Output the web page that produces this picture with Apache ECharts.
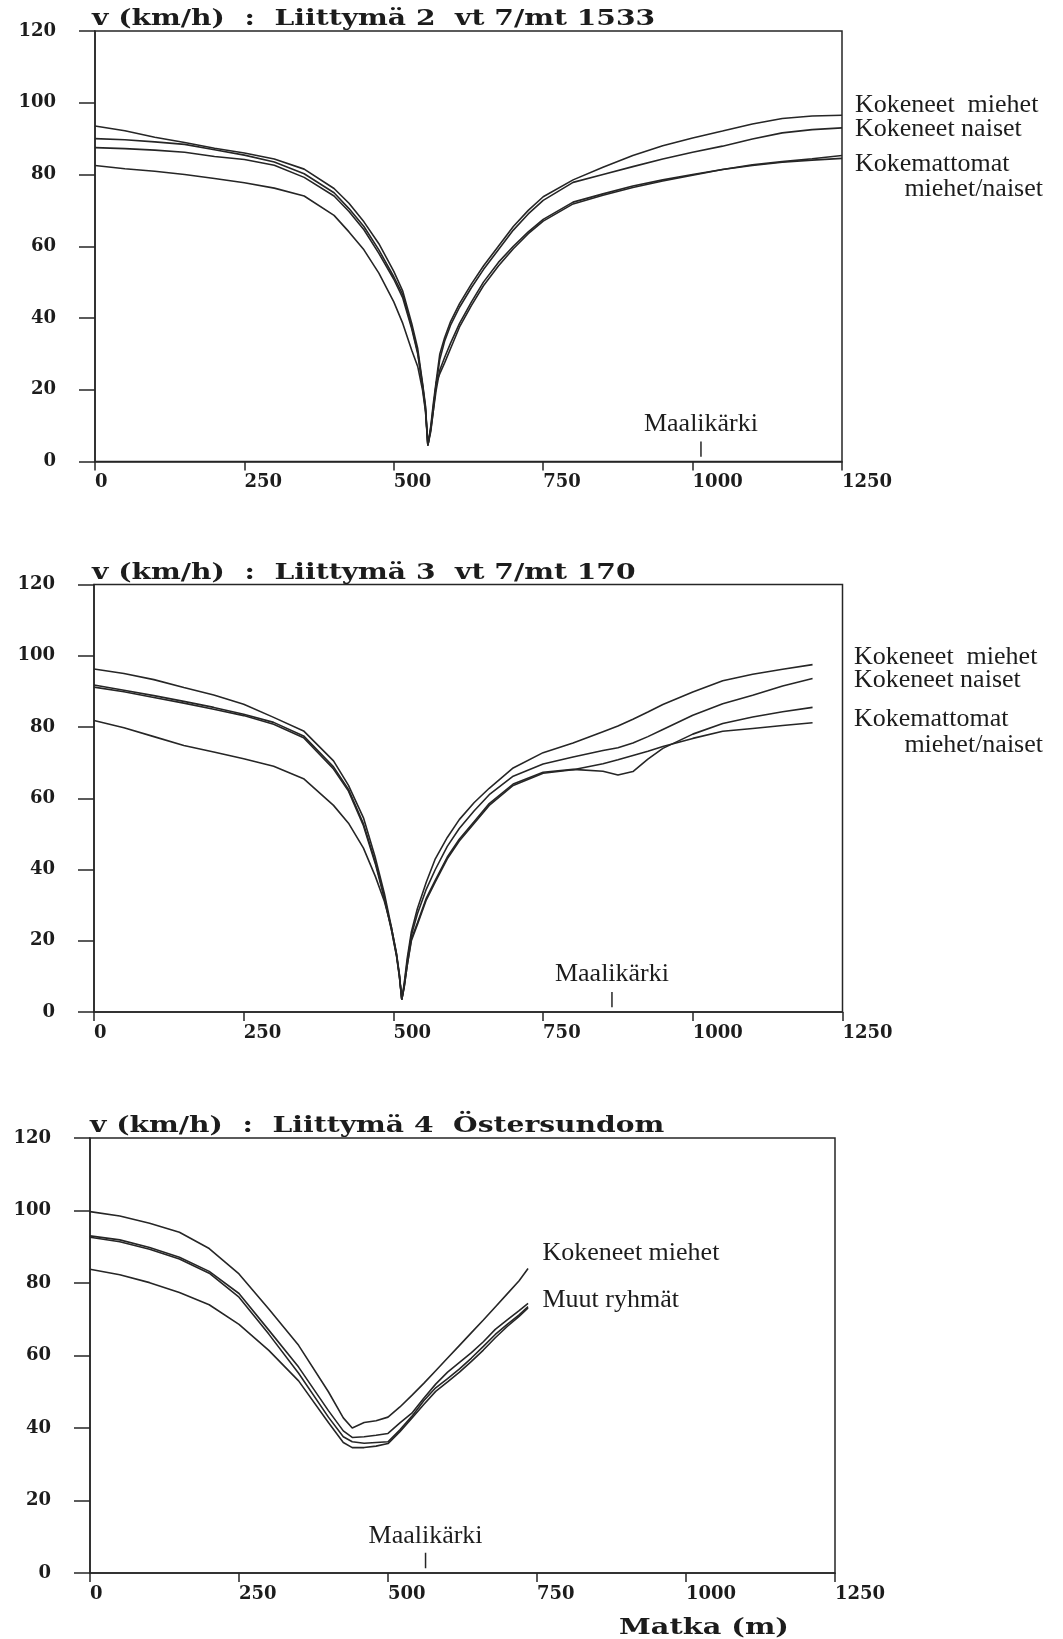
<!DOCTYPE html>
<html>
<head>
<meta charset="utf-8">
<script src="https://cdn.jsdelivr.net/npm/echarts/dist/echarts.min.js"></script>
<style>
  html, body { margin: 0; padding: 0; background: #fff; }
  #chart { width: 1063px; height: 1639px; }
</style>
</head>
<body>
<div id="chart"></div>
<script>
// Speed profiles (km/h) against distance (m) at three junctions.

// ---- Liittymä 2, vt 7/mt 1533 ----
const dist2 = [0, 50, 100, 150, 200, 250, 300, 350, 400, 425, 450, 475, 500, 515, 530, 540, 548, 553, 557,
  562, 566, 571, 577, 585, 595, 610, 630, 650, 675, 700, 725, 750, 800, 850, 900, 950, 1000, 1050, 1100, 1150, 1200, 1250];
const j2KokMiehet = [93.5, 92.2, 90.4, 88.9, 87.3, 86.0, 84.3, 81.5, 76.1, 72.0, 66.8, 60.7, 53.0, 47.5, 38.5, 31.5, 22.0, 15.5, 4.5,
  10.0, 16.0, 22.5, 30.0, 34.5, 39.0, 44.0, 49.5, 54.5, 60.0, 65.5, 70.0, 73.8, 78.5, 82.0, 85.3, 88.0, 90.2, 92.1, 94.1, 95.6, 96.3, 96.5];
const j2KokNaiset = [90.0, 89.7, 89.1, 88.4, 86.9, 85.4, 83.5, 80.2, 74.9, 70.5, 65.5, 59.0, 51.5, 46.5, 37.5, 30.5, 21.5, 15.0, 4.5,
  9.5, 15.0, 21.5, 28.5, 33.5, 38.0, 43.0, 48.5, 53.5, 59.0, 64.5, 69.0, 72.8, 77.8, 80.0, 82.2, 84.3, 86.2, 87.9, 89.9, 91.6, 92.5, 93.0];
const j2KokemMiehet = [87.5, 87.2, 86.8, 86.2, 85.0, 84.2, 82.6, 79.2, 74.0, 69.7, 64.6, 58.0, 50.8, 45.6, 37.0, 30.0, 21.0, 14.5, 4.5,
  9.0, 14.0, 20.0, 25.5, 29.0, 33.0, 38.5, 44.5, 50.0, 55.5, 60.0, 64.0, 67.5, 72.3, 74.6, 76.8, 78.5, 80.0, 81.4, 82.5, 83.4, 84.0, 84.5];
const j2KokemNaiset = [82.5, 81.6, 80.9, 80.0, 78.9, 77.7, 76.2, 74.0, 68.6, 64.0, 59.0, 52.5, 44.5, 38.5, 31.0, 26.5, 20.0, 14.0, 4.5,
  8.5, 14.0, 22.0, 24.5, 27.5, 31.5, 37.5, 43.5, 49.0, 54.5, 59.3, 63.5, 67.0, 71.8, 74.2, 76.4, 78.2, 79.8, 81.4, 82.7, 83.6, 84.4, 85.3];

// ---- Liittymä 3, vt 7/mt 170 ----
const dist3 = [0, 50, 100, 150, 200, 250, 300, 350, 400, 425, 450, 470, 485, 497, 505, 510, 514,
  518, 523, 530, 540, 555, 570, 590, 610, 635, 660, 700, 750, 800, 850, 875, 900, 925, 950, 1000, 1050, 1100, 1150, 1200];
const j3KokMiehet = [96.3, 95.0, 93.3, 91.1, 89.0, 86.4, 82.7, 78.9, 70.5, 63.6, 54.5, 43.2, 33.2, 23.5, 16.5, 10.5, 3.5,
  8.0, 15.0, 22.5, 29.0, 36.5, 43.0, 49.0, 54.0, 58.8, 62.8, 68.5, 72.8, 75.5, 78.7, 80.3, 82.2, 84.2, 86.3, 89.8, 93.0, 94.8, 96.2, 97.5];
const j3KokNaiset = [91.8, 90.3, 88.8, 87.2, 85.5, 83.6, 81.3, 77.5, 68.8, 62.5, 52.8, 42.0, 32.2, 23.0, 16.0, 10.0, 3.5,
  7.5, 14.0, 21.5, 27.5, 34.5, 40.0, 46.5, 51.5, 56.5, 61.0, 66.2, 69.6, 71.6, 73.4, 74.2, 75.5, 77.3, 79.3, 83.3, 86.5, 88.9, 91.5, 93.6];
const j3KokemMiehet = [91.2, 89.9, 88.3, 86.7, 85.0, 83.2, 80.8, 77.0, 68.2, 62.0, 52.3, 41.5, 31.8, 22.8, 16.0, 10.0, 3.5,
  7.0, 13.0, 20.5, 25.0, 32.0, 37.0, 43.5, 48.5, 53.5, 58.5, 64.0, 67.3, 68.1, 67.6, 66.5, 67.5, 71.0, 74.0, 78.0, 81.0, 82.8, 84.3, 85.5];
const j3KokemNaiset = [81.8, 79.8, 77.3, 74.8, 73.0, 71.1, 69.0, 65.5, 58.0, 53.0, 46.0, 38.0, 31.0, 23.5, 16.5, 10.5, 3.5,
  7.0, 13.0, 20.0, 24.5, 31.5, 36.5, 43.0, 48.0, 53.0, 58.0, 63.6, 67.0, 68.0, 69.7, 70.8, 72.0, 73.2, 74.5, 76.8, 78.8, 79.6, 80.4, 81.2];

// ---- Liittymä 4, Östersundom ----
const dist4 = [0, 50, 100, 150, 200, 250, 300, 350, 400, 425, 440, 460, 480, 500, 520, 540, 560, 580, 600, 620, 640, 660, 680, 700, 720, 735];
const j4KokMiehet = [99.7, 98.5, 96.5, 94.0, 89.5, 82.5, 72.8, 62.8, 50.0, 42.8, 40.0, 41.5, 42.0, 43.0, 45.8, 49.0, 52.3, 55.8, 59.3, 62.8, 66.3, 69.8, 73.4, 77.0, 80.6, 84.0];
const j4KokNaiset = [93.0, 91.9, 89.8, 87.1, 83.2, 77.1, 67.0, 56.8, 44.8, 39.2, 37.4, 37.6, 38.0, 38.5, 41.4, 44.1, 48.2, 52.1, 55.4, 58.1, 60.8, 63.8, 67.2, 69.8, 72.4, 74.4];
const j4KokemMiehet = [92.6, 91.4, 89.3, 86.6, 82.7, 76.1, 65.9, 55.1, 43.0, 37.6, 36.2, 35.8, 36.0, 36.2, 39.5, 43.2, 47.5, 51.1, 53.6, 56.3, 59.3, 62.5, 65.8, 68.6, 71.2, 73.5];
const j4KokemNaiset = [83.8, 82.3, 80.1, 77.4, 74.0, 68.6, 61.4, 53.0, 41.5, 36.0, 34.6, 34.6, 35.0, 35.7, 39.0, 42.7, 46.5, 50.1, 52.7, 55.4, 58.4, 61.5, 64.9, 68.0, 70.8, 73.1];

// Goal tip ("Maalikärki") distance per junction, tick span and caption height in km/h
const goalDist = [1014, 865, 563];
const goalTick = [1.3, 5.6];
const goalLabelSpeed = [10.3, 10.6, 10.1];

// Axis ranges and tick steps
const distRange = [0, 1250], distStep = 250;
const speedRange = [0, 120], speedStep = 20;

const titles = [
  'v (km/h)  :  Liittymä 2  vt 7/mt 1533',
  'v (km/h)  :  Liittymä 3  vt 7/mt 170',
  'v (km/h)  :  Liittymä 4  Östersundom'
];
const seriesNames = ['Kokeneet miehet', 'Kokeneet naiset', 'Kokemattomat miehet', 'Kokemattomat naiset'];

const panels = [
  { dist: dist2, series: [j2KokMiehet, j2KokNaiset, j2KokemMiehet, j2KokemNaiset] },
  { dist: dist3, series: [j3KokMiehet, j3KokNaiset, j3KokemMiehet, j3KokemNaiset] },
  { dist: dist4, series: [j4KokMiehet, j4KokNaiset, j4KokemMiehet, j4KokemNaiset] }
];

// Layout of the three stacked panels (pixels)
const grids = [
  { left: 95, top: 31, width: 747, height: 430.5 },
  { left: 94, top: 584.5, width: 748.5, height: 427.5 },
  { left: 90, top: 1138, width: 745, height: 435 }
];

const INK = '#262626';
const TEXT = '#1c1c1c';
const boldSerif = 'DejaVu Serif';
const plainSerif = 'Liberation Serif';

const option = {
  animation: false,
  backgroundColor: '#ffffff',
  grid: grids.map(g => Object.assign({
    show: true, borderColor: INK, borderWidth: 1.5, backgroundColor: 'transparent', containLabel: false
  }, g)),
  xAxis: grids.map((g, i) => ({
    type: 'value', gridIndex: i, min: distRange[0], max: distRange[1], interval: distStep,
    axisLine: { show: true, onZero: false, lineStyle: { color: INK, width: 1.5 } },
    axisTick: { show: true, inside: false, length: 9, lineStyle: { color: INK, width: 1.5 } },
    axisLabel: {
      show: true, align: 'left', margin: 12, color: TEXT, showMinLabel: true, showMaxLabel: true,
      fontFamily: boldSerif, fontWeight: 'bold', fontSize: 18,
      formatter: v => String(v)
    },
    splitLine: { show: false }
  })),
  yAxis: grids.map((g, i) => ({
    type: 'value', gridIndex: i, min: speedRange[0], max: speedRange[1], interval: speedStep,
    axisLine: { show: true, onZero: false, lineStyle: { color: INK, width: 1.5 } },
    axisTick: { show: true, inside: false, length: 16, lineStyle: { color: INK, width: 1.5 } },
    axisLabel: {
      show: true, margin: 39, color: TEXT, showMinLabel: true, showMaxLabel: true,
      fontFamily: boldSerif, fontWeight: 'bold', fontSize: 18,
      formatter: v => String(v)
    },
    splitLine: { show: false }
  })),
  series: [],
  graphic: []
};

// Speed curves
panels.forEach((p, gi) => {
  p.series.forEach((vals, si) => {
    option.series.push({
      type: 'line', name: seriesNames[si], xAxisIndex: gi, yAxisIndex: gi,
      data: p.dist.map((d, k) => [d, vals[k]]),
      symbol: 'none', showSymbol: false, silent: true,
      lineStyle: { color: INK, width: 1.6 }
    });
  });
  // goal tip marker and its caption
  option.series.push({
    type: 'line', xAxisIndex: gi, yAxisIndex: gi, silent: true, symbol: 'none',
    data: [[goalDist[gi], goalTick[0]], [goalDist[gi], goalTick[1]]],
    lineStyle: { color: INK, width: 1.5 }
  });
  option.series.push({
    type: 'scatter', xAxisIndex: gi, yAxisIndex: gi, silent: true, symbolSize: 1,
    itemStyle: { color: 'rgba(0,0,0,0)', opacity: 1 },
    data: [[goalDist[gi], goalLabelSpeed[gi]]],
    label: {
      show: true, position: 'inside', formatter: 'Maalikärki', opacity: 1,
      color: TEXT, fontFamily: plainSerif, fontSize: 26
    }
  });
});

// Panel titles
const titleY = [19, 573, 1126];
const titleX = [92, 92, 90];
titles.forEach((t, i) => {
  option.graphic.push({
    type: 'text', x: titleX[i], y: titleY[i], scaleX: 1.28, scaleY: 1, originX: 0, originY: 0,
    style: {
      text: t, fill: TEXT, font: 'bold 22px "DejaVu Serif"',
      textAlign: 'left', textVerticalAlign: 'middle', verticalAlign: 'middle'
    }
  });
});

// Curve captions beside the panels
const captions = [
  { text: 'Kokeneet  miehet', x: 855, y: 105, align: 'left' },
  { text: 'Kokeneet naiset', x: 855, y: 129.5, align: 'left' },
  { text: 'Kokemattomat', x: 855, y: 164.5, align: 'left' },
  { text: 'miehet/naiset', x: 1043, y: 189.5, align: 'right' },
  { text: 'Kokeneet  miehet', x: 854, y: 657.5, align: 'left' },
  { text: 'Kokeneet naiset', x: 854, y: 680.5, align: 'left' },
  { text: 'Kokemattomat', x: 854, y: 719, align: 'left' },
  { text: 'miehet/naiset', x: 1043, y: 745, align: 'right' },
  { text: 'Kokeneet miehet', x: 542.5, y: 1253, align: 'left' },
  { text: 'Muut ryhmät', x: 542.5, y: 1300, align: 'left' }
];
captions.forEach(c => {
  option.graphic.push({
    type: 'text', x: c.x, y: c.y,
    style: {
      text: c.text, fill: TEXT, font: '26px "Liberation Serif"',
      textAlign: c.align, align: c.align, textVerticalAlign: 'middle', verticalAlign: 'middle'
    }
  });
});

// Distance axis name under the last panel
option.graphic.push({
  type: 'text', x: 619, y: 1628, scaleX: 1.25, originX: 0, originY: 0,
  style: {
    text: 'Matka (m)', fill: TEXT, font: 'bold 23px "DejaVu Serif"',
    textAlign: 'left', textVerticalAlign: 'middle', verticalAlign: 'middle'
  }
});

const chart = echarts.init(document.getElementById('chart'), null, { renderer: 'canvas' });
chart.setOption(option);
</script>
</body>
</html>
